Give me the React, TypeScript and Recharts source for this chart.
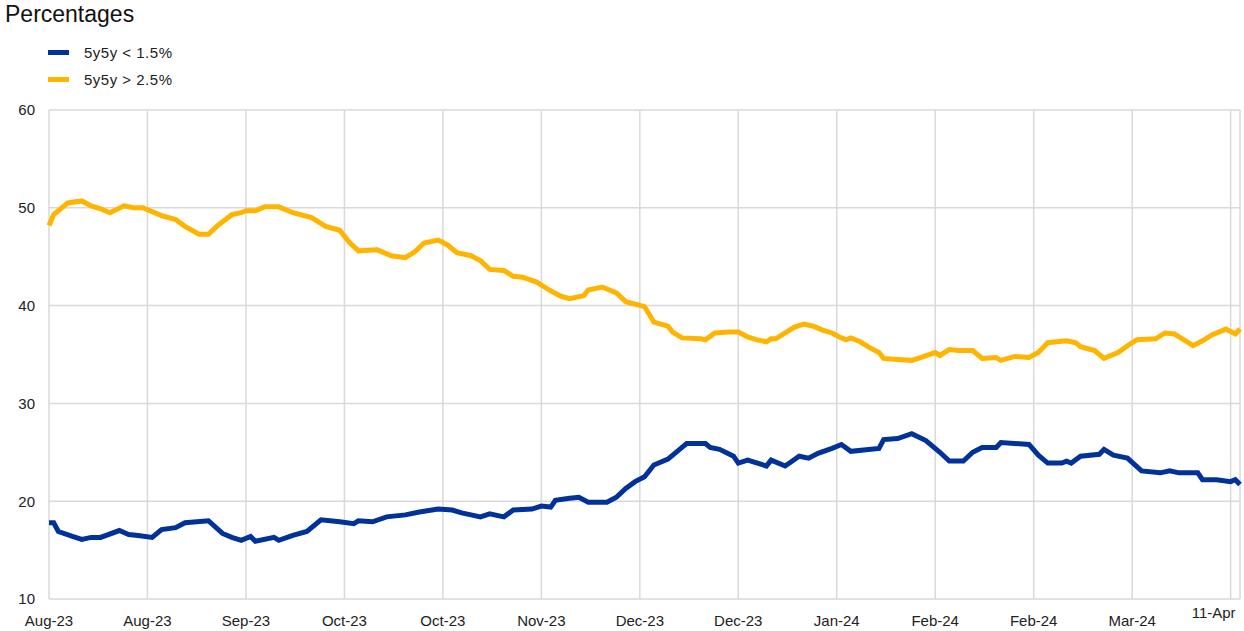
import React from 'react';
import { LineChart, Line, XAxis, YAxis, CartesianGrid } from 'recharts';

// x positions are days counted from 1 Aug 2023
const tickDays = [0, 21, 42, 63, 84, 105, 126, 147, 168, 189, 210, 231, 252];
const tickLabels = ['Aug-23', 'Aug-23', 'Sep-23', 'Oct-23', 'Oct-23', 'Nov-23', 'Dec-23', 'Dec-23', 'Jan-24', 'Feb-24', 'Feb-24', 'Mar-24', '11-Apr'];
const yTicks = [10, 20, 30, 40, 50, 60];

// 5y5y < 1.5%
const lowDays = [0, 1, 2, 5, 7, 9, 11, 15, 17, 19, 22, 24, 27, 29, 34, 37, 39, 41, 43, 44, 48, 49, 52, 55, 58, 62, 65, 66, 69, 72, 76, 79, 83, 86, 88, 90, 92, 94, 97, 99, 103, 105, 107, 108, 111, 113, 115, 119, 121, 123, 125, 127, 129, 132, 135, 136, 140, 141, 143, 146, 147, 149, 153, 154, 157, 160, 162, 164, 167, 169, 171, 177, 178, 181, 184, 187, 190, 192, 195, 197, 199, 202, 203, 209, 211, 213, 216, 217, 218, 220, 224, 225, 227, 230, 233, 237, 239, 241, 245, 246, 249, 252, 253, 254];
const lowValues = [17.8, 17.8, 16.9, 16.4, 16.1, 16.3, 16.3, 17.0, 16.6, 16.5, 16.3, 17.1, 17.3, 17.8, 18.0, 16.7, 16.3, 16.0, 16.4, 15.9, 16.3, 16.0, 16.5, 16.9, 18.1, 17.9, 17.7, 18.0, 17.9, 18.4, 18.6, 18.9, 19.2, 19.1, 18.8, 18.6, 18.4, 18.7, 18.4, 19.1, 19.2, 19.5, 19.4, 20.1, 20.3, 20.4, 19.9, 19.9, 20.4, 21.3, 22.0, 22.5, 23.7, 24.3, 25.5, 25.9, 25.9, 25.5, 25.3, 24.6, 23.9, 24.2, 23.6, 24.2, 23.6, 24.6, 24.4, 24.9, 25.4, 25.8, 25.1, 25.4, 26.3, 26.4, 26.9, 26.2, 25.0, 24.1, 24.1, 25.0, 25.5, 25.5, 26.0, 25.8, 24.7, 23.9, 23.9, 24.1, 23.9, 24.6, 24.8, 25.3, 24.7, 24.4, 23.1, 22.9, 23.1, 22.9, 22.9, 22.2, 22.2, 22.0, 22.2, 21.7];

// 5y5y > 2.5%
const highDays = [0, 1, 3, 4, 7, 9, 11, 13, 16, 18, 20, 24, 27, 29, 32, 34, 36, 39, 41, 42, 44, 46, 49, 52, 56, 59, 62, 64, 66, 70, 73, 76, 78, 80, 83, 85, 87, 90, 92, 94, 97, 99, 101, 104, 106, 107, 109, 111, 114, 115, 118, 121, 123, 127, 129, 132, 133, 135, 139, 140, 142, 145, 147, 149, 151, 153, 154, 155, 157, 159, 161, 163, 165, 167, 169, 170, 171, 173, 175, 177, 178, 181, 184, 186, 189, 190, 192, 194, 197, 199, 202, 203, 206, 209, 211, 213, 217, 219, 220, 223, 225, 228, 230, 232, 236, 238, 240, 244, 246, 248, 251, 253, 254];
const highValues = [48.2, 49.3, 50.1, 50.5, 50.7, 50.2, 49.9, 49.5, 50.2, 50.0, 50.0, 49.2, 48.8, 48.1, 47.3, 47.3, 48.2, 49.3, 49.5, 49.7, 49.7, 50.1, 50.1, 49.5, 49.0, 48.1, 47.7, 46.5, 45.6, 45.7, 45.1, 44.9, 45.5, 46.4, 46.7, 46.2, 45.4, 45.1, 44.6, 43.7, 43.6, 43.0, 42.9, 42.4, 41.8, 41.5, 41.0, 40.7, 41.0, 41.6, 41.9, 41.3, 40.4, 39.9, 38.3, 37.9, 37.3, 36.7, 36.6, 36.5, 37.2, 37.3, 37.3, 36.8, 36.5, 36.3, 36.6, 36.6, 37.2, 37.8, 38.1, 37.9, 37.5, 37.2, 36.7, 36.5, 36.7, 36.3, 35.7, 35.2, 34.6, 34.5, 34.4, 34.7, 35.2, 34.9, 35.5, 35.4, 35.4, 34.6, 34.7, 34.4, 34.8, 34.7, 35.2, 36.2, 36.4, 36.2, 35.8, 35.4, 34.6, 35.2, 35.9, 36.5, 36.6, 37.2, 37.1, 35.9, 36.4, 37.0, 37.6, 37.1, 37.6];

const BLUE = '#003299';
const YELLOW = '#ffb400';
const FONT = '"Liberation Sans", Arial, sans-serif';

const allDays = Array.from(new Set([...lowDays, ...highDays])).sort((a, b) => a - b);
const chartData = allDays.map(day => {
  const li = lowDays.indexOf(day);
  const hi = highDays.indexOf(day);
  return {
    day,
    low: li >= 0 ? lowValues[li] : undefined,
    high: hi >= 0 ? highValues[hi] : undefined,
  };
});

const XTick = (props: any) => {
  const { x, y, payload } = props;
  const idx = tickDays.indexOf(payload.value);
  const last = idx === tickDays.length - 1;
  return (
    <text
      x={last ? x - 17 : x}
      y={last ? y - 8 : y}
      dy="0.71em"
      textAnchor="middle"
      fill="#222"
      fontSize={15}
      fontFamily={FONT}
    >
      {tickLabels[idx]}
    </text>
  );
};

const legendItems = [
  { label: '5y5y < 1.5%', color: BLUE },
  { label: '5y5y > 2.5%', color: YELLOW },
];

export default function App() {
  return (
    <div style={{ position: 'absolute', left: 0, top: 0, width: 1244, height: 631, background: '#fff', fontFamily: FONT }}>
      <div style={{ position: 'absolute', left: 5, top: 0, fontSize: 23, color: '#111', lineHeight: '28px' }}>Percentages</div>
      {legendItems.map((item, i) => (
        <div key={item.label} style={{ position: 'absolute', left: 48, top: 42 + i * 27, height: 20, display: 'flex', alignItems: 'center' }}>
          <div style={{ width: 21, height: 5, background: item.color }} />
          <span style={{ marginLeft: 15, fontSize: 15, color: '#222', letterSpacing: 0.5, whiteSpace: 'pre' }}>{item.label}</span>
        </div>
      ))}
      <LineChart
        width={1244}
        height={631}
        data={chartData}
        margin={{ top: 110, right: 4, left: 0, bottom: 0 }}
        style={{ position: 'absolute', left: 0, top: 0 }}
      >
        <CartesianGrid stroke="#d9d9d9" strokeWidth={1.5} />
        <XAxis
          dataKey="day"
          type="number"
          domain={[0, 254]}
          ticks={tickDays}
          interval={0}
          axisLine={false}
          tickLine={false}
          tickSize={6}
          tickMargin={10}
          height={32}
          tick={<XTick />}
        />
        <YAxis
          type="number"
          domain={[10, 60]}
          ticks={yTicks}
          interval={0}
          width={49}
          axisLine={false}
          tickLine={false}
          tickMargin={8}
          tick={{ fill: '#222', fontSize: 15, fontFamily: FONT }}
        />
        <Line
          type="linear"
          dataKey="high"
          stroke={YELLOW}
          strokeWidth={5}
          dot={false}
          connectNulls
          isAnimationActive={false}
        />
        <Line
          type="linear"
          dataKey="low"
          stroke={BLUE}
          strokeWidth={5}
          dot={false}
          connectNulls
          isAnimationActive={false}
        />
      </LineChart>
    </div>
  );
}
